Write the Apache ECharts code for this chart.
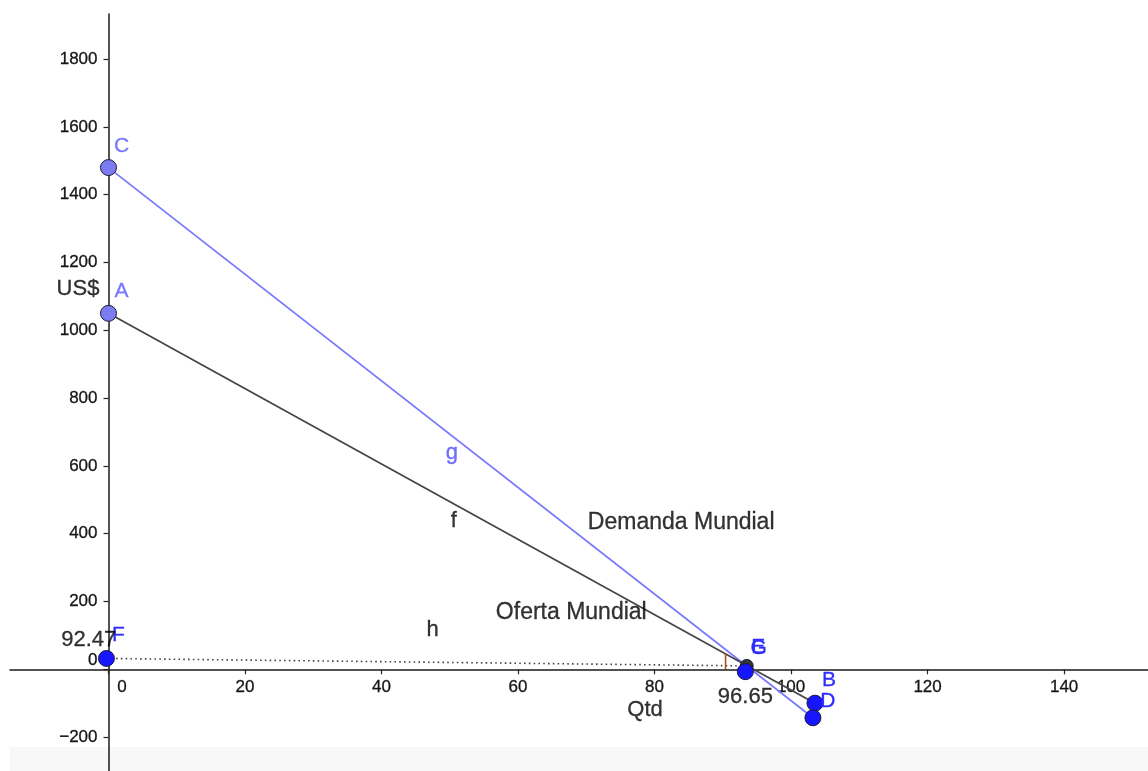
<!DOCTYPE html>
<html>
<head>
<meta charset="utf-8">
<script src="https://cdn.jsdelivr.net/npm/echarts@6/dist/echarts.min.js"></script>
<style>
html,body{margin:0;padding:0;background:#fff;}
#chart{width:1148px;height:771px;}
</style>
</head>
<body>
<div id="chart"></div>
<script>
// ---- data ----
const xTickValues = [0, 20, 40, 60, 80, 100, 120, 140];
const yTickValues = [-200, 0, 200, 400, 600, 800, 1000, 1200, 1400, 1600, 1800];
const xRange = [-14.43, 152.29];
const yRange = [-300, 1933];

const pointNames = ['C', 'A', 'F', 'G', 'E', 'B', 'D'];
const pointX = [0, 0, -0.3, 93.5, 93.3, 103.5, 103.2];
const pointY = [1480, 1050, 32, 10, -7, -100, -143];

const lineG = ['C', 'D'];        // Demanda Mundial
const lineF = ['A', 'B'];        // Oferta Mundial
const dottedLine = ['F', 'G'];
const segmentHX = [90.4, 90.4];
const segmentHY = [0, 46];

const annotationTexts = ['US$', 'g', 'f', 'Demanda Mundial', 'Oferta Mundial', 'h', '92.47', '96.65', 'Qtd'];
const annotationX = [-4.47, 50.3, 50.6, 83.9, 67.8, 47.5, -2.9, 93.3, 78.6];
const annotationY = [1122, 638, 437, 432, 166, 117, 88, -83, -120];

// ---- styles (kept separate from data) ----
const FONT = 'Liberation Sans, Arial, sans-serif';
const pointStyle = {
  C: {fill: '#7b7bf2', size: 16, labelColor: '#7878ff', offset: [13, -21]},
  A: {fill: '#7b7bf2', size: 16, labelColor: '#7878ff', offset: [13, -22]},
  F: {fill: '#1717ff', size: 16, labelColor: '#2d2dff', offset: [12, -23]},
  G: {fill: '#333333', size: 13, labelColor: '#2d2dff', offset: [12, -18]},
  E: {fill: '#1717ff', size: 16, labelColor: '#2d2dff', offset: [13, -24]},
  B: {fill: '#1717ff', size: 16, labelColor: '#2d2dff', offset: [14, -23]},
  D: {fill: '#1717ff', size: 16, labelColor: '#2d2dff', offset: [15, -17]}
};
const annotationStyle = {
  'US$': {size: 22, color: '#000'},
  'g': {size: 22, color: '#4a4aff'},
  'f': {size: 22, color: '#000'},
  'Demanda Mundial': {size: 23, color: '#000'},
  'Oferta Mundial': {size: 23, color: '#000'},
  'h': {size: 22, color: '#000'},
  '92.47': {size: 22, color: '#000'},
  '96.65': {size: 22, color: '#000'},
  'Qtd': {size: 22, color: '#000'}
};
const GRID = {left: 10, right: 0, top: 14, bottom: 0};
const ORIGIN_PX = [108.5, 669.3];
const TICK_COLOR = '#151515';

function pt(name) {
  const i = pointNames.indexOf(name);
  return [pointX[i], pointY[i]];
}

const chart = echarts.init(document.getElementById('chart'), null, {renderer: 'canvas'});

const tickLabelStyle = {
  fontFamily: FONT, fontSize: 17, color: TICK_COLOR,
  textBorderColor: TICK_COLOR, textBorderWidth: 0.3
};

const option = {
  animation: false,
  backgroundColor: '#ffffff',
  graphic: [{
    type: 'rect', left: 10, top: 747, z: -10, silent: true,
    shape: {width: 1138, height: 24},
    style: {fill: '#f8f8f8'}
  }],
  grid: Object.assign({containLabel: false, outerBoundsMode: 'none'}, GRID),
  xAxis: {
    type: 'value', min: xRange[0], max: xRange[1],
    position: 'bottom',
    offset: -(771 - GRID.bottom - ORIGIN_PX[1]),
    axisLine: {show: true, onZero: false, lineStyle: {color: '#1a1a1a', width: 1.5}},
    axisTick: {show: true, length: 5, customValues: xTickValues, lineStyle: {color: '#222', width: 1.2}},
    splitLine: {show: false},
    axisLabel: Object.assign({
      customValues: xTickValues,
      margin: 10,
      formatter: function (v) {
        if (v === 0) return '{z|0}';
        return String(v);
      },
      rich: {z: Object.assign({padding: [0, 0, 0, 27]}, tickLabelStyle)}
    }, tickLabelStyle)
  },
  yAxis: {
    type: 'value', min: yRange[0], max: yRange[1],
    position: 'left',
    offset: -(ORIGIN_PX[0] - GRID.left),
    axisLine: {show: true, onZero: false, lineStyle: {color: '#1a1a1a', width: 1.5}},
    axisTick: {show: true, length: 5, customValues: yTickValues, lineStyle: {color: '#222', width: 1.2}},
    splitLine: {show: false},
    axisLabel: Object.assign({
      customValues: yTickValues,
      margin: 11,
      formatter: function (v) {
        if (v === 0) return '{z|0}';
        return v < 0 ? '\u2212' + Math.abs(v) : String(v);
      },
      rich: {z: Object.assign({padding: [0, 0, 17, 0]}, tickLabelStyle)}
    }, tickLabelStyle)
  },
  series: [
    {
      name: 'g', type: 'line', silent: true, symbol: 'none', z: 2,
      data: lineG.map(pt),
      lineStyle: {color: '#7878ff', width: 1.7}
    },
    {
      name: 'f', type: 'line', silent: true, symbol: 'none', z: 2,
      data: lineF.map(pt),
      lineStyle: {color: '#444444', width: 1.7}
    },
    {
      name: 'dotted', type: 'line', silent: true, symbol: 'none', z: 2,
      data: dottedLine.map(pt),
      lineStyle: {color: '#444', width: 1.6, type: [1.6, 3.2]}
    },
    {
      name: 'h', type: 'line', silent: true, symbol: 'none', z: 2,
      data: segmentHX.map((x, i) => [x, segmentHY[i]]),
      lineStyle: {color: '#a5531c', width: 1.6}
    },
    {
      name: 'points', type: 'scatter', silent: true, z: 5,
      data: pointNames.map((n, i) => ({
        name: n,
        value: [pointX[i], pointY[i]],
        symbolSize: pointStyle[n].size,
        itemStyle: {color: pointStyle[n].fill, borderColor: '#1c1c3a', borderWidth: 1, opacity: 1},
        label: {
          show: true, formatter: n, position: 'inside', offset: pointStyle[n].offset,
          color: pointStyle[n].labelColor, fontFamily: FONT, fontSize: 21,
          textBorderColor: pointStyle[n].labelColor, textBorderWidth: 0.3
        }
      }))
    },
    {
      name: 'texts', type: 'scatter', silent: true, z: 6, symbolSize: 0,
      data: annotationTexts.map((t, i) => ({
        name: t,
        value: [annotationX[i], annotationY[i]],
        label: {
          show: true, formatter: t, position: 'inside',
          color: annotationStyle[t].color, fontFamily: FONT, fontSize: annotationStyle[t].size,
          textBorderColor: annotationStyle[t].color, textBorderWidth: 0.3
        }
      }))
    }
  ]
};
chart.setOption(option);
</script>
</body>
</html>
